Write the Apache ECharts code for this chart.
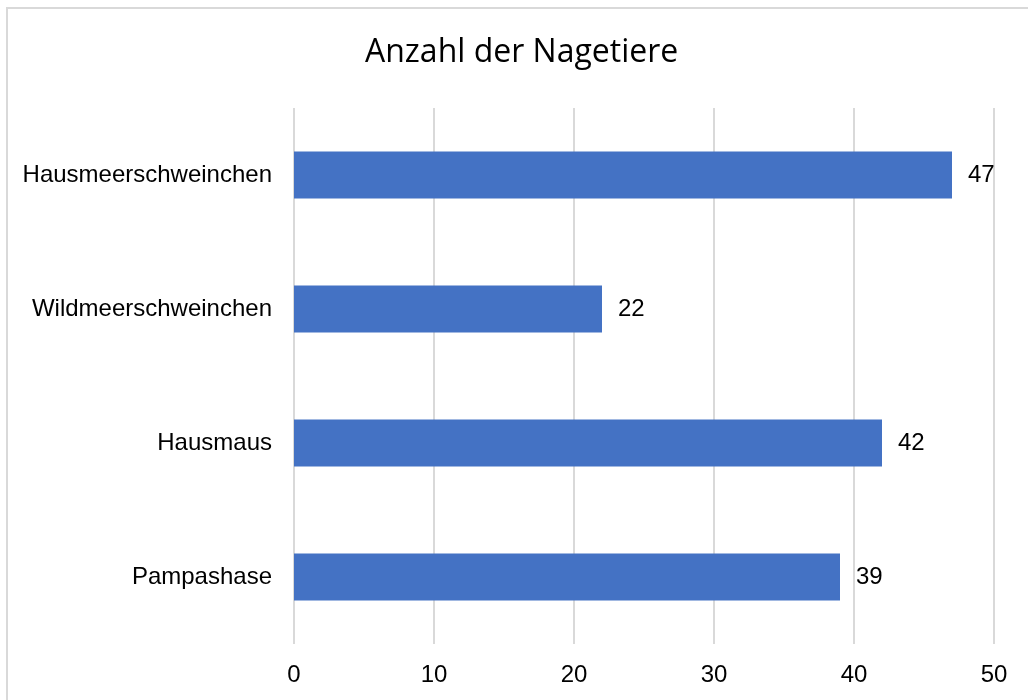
<!DOCTYPE html>
<html>
<head>
<meta charset="utf-8">
<title>Anzahl der Nagetiere</title>
<script src="https://cdn.jsdelivr.net/npm/echarts@6/dist/echarts.min.js"></script>
<style>
  html, body { margin: 0; padding: 0; background: #fff; }
  #frame {
    position: absolute; left: 6px; top: 7px; width: 1040px; height: 720px;
    border-left: 2px solid #d9d9d9; border-top: 2px solid #d9d9d9;
  }
  #main { position: absolute; left: 0; top: 0; width: 1028px; height: 700px; }
</style>
</head>
<body>
<div id="frame"></div>
<div id="main"></div>
<script>
// Daten
var categories = ['Hausmeerschweinchen', 'Wildmeerschweinchen', 'Hausmaus', 'Pampashase']
var values = [47, 22, 42, 39]
var xTicks = [0, 10, 20, 30, 40, 50]

var chart = echarts.init(document.getElementById('main'))
var textFont = '"Liberation Sans", Arial, sans-serif'

var option = {
  animation: false,
  title: {
    text: 'Anzahl der Nagetiere',
    left: 360, // Titel sitzt im Original leicht rechts der Mitte
    top: 32,
    textStyle: {
      fontFamily: '"Open Sans", "Noto Sans", sans-serif',
      fontWeight: 'normal',
      fontSize: 32,
      color: '#000'
    }
  },
  grid: {
    left: 294,
    right: 34,
    top: 108,
    bottom: 56
  },
  xAxis: {
    type: 'value',
    min: xTicks[0],
    max: xTicks[xTicks.length - 1],
    interval: xTicks[1] - xTicks[0],
    axisLine: { show: false },
    axisTick: { show: false },
    axisLabel: {
      margin: 19,
      fontFamily: textFont,
      fontSize: 24,
      color: '#000'
    },
    splitLine: {
      show: true,
      showMinLine: true,
      showMaxLine: true,
      lineStyle: { color: '#d9d9d9', width: 2 }
    }
  },
  yAxis: {
    type: 'category',
    data: categories,
    inverse: true,
    axisLine: { show: false },
    axisTick: { show: false },
    splitLine: { show: false },
    axisLabel: {
      margin: 22,
      fontFamily: textFont,
      fontSize: 24,
      color: '#000'
    }
  },
  series: [{
    type: 'bar',
    data: values,
    barWidth: '35%',
    itemStyle: { color: '#4472c4' },
    label: {
      show: true,
      position: 'right',
      distance: 16,
      fontFamily: textFont,
      fontSize: 24,
      color: '#000'
    }
  }]
}

chart.setOption(option)
</script>
</body>
</html>
